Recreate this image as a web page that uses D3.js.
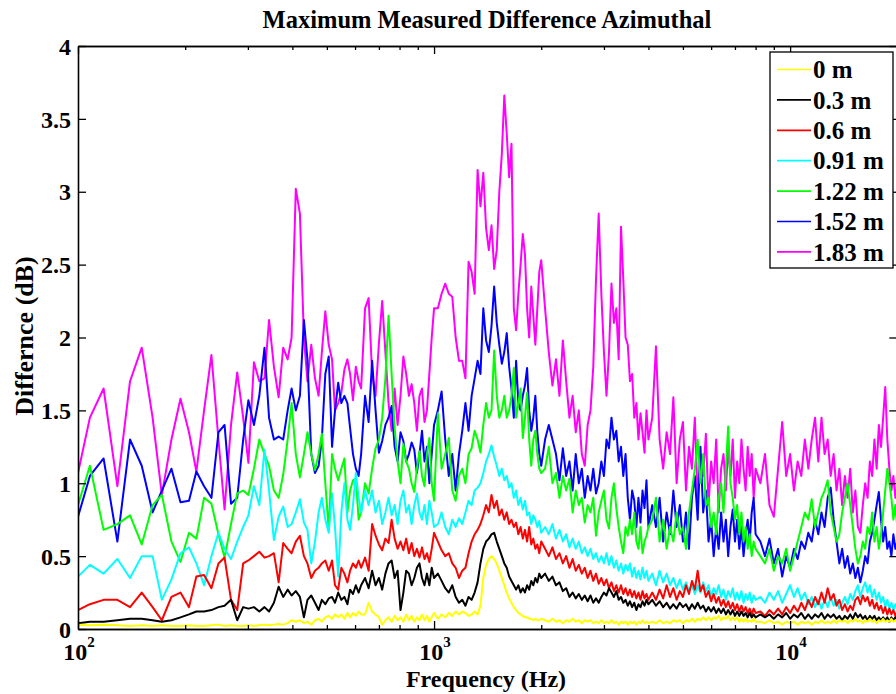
<!DOCTYPE html>
<html><head><meta charset="utf-8">
<script src="https://cdn.jsdelivr.net/npm/d3@7"></script>
<style>
body{margin:0;background:#fff}
svg text{font-family:"Liberation Serif","Times New Roman",serif;font-weight:bold;fill:#000}
</style>
</head><body>
<svg id="chart" width="896" height="694"></svg>
<script>
// ---------------- DATA ----------------
const title = "Maximum Measured Difference Azimuthal";
const xTitle = "Frequency (Hz)";
const yTitle = "Differnce (dB)";
const seriesLabels = ["0 m","0.3 m","0.6 m","0.91 m","1.22 m","1.52 m","1.83 m"];
const yTicks = [0,0.5,1,1.5,2,2.5,3,3.5,4];
const xMajorTicks = [100,1000,10000];
const xMinorTicks = [200,300,400,500,600,700,800,900,2000,3000,4000,5000,6000,7000,8000,9000,20000];

const freq = [
100,108,118,129,140,151,162,172,183,194,205,215,226,237,248,258,269,280,291,301,312,323,334,344,355,366,377,388,398,409,420,431,441,452,463,474,484,495,506,517,527,538,549,560,571,581,592,603,614,624,
640,655,670,685,700,715,730,745,760,775,790,805,820,835,850,865,880,895,910,925,940,955,970,985,1000,
1025,1050,1075,1100,1125,1150,1175,1200,1225,1250,1275,1300,1325,1350,1375,1400,1425,1450,1475,1500,1525,1550,1575,1600,1625,1650,1675,1700,1725,1750,1775,1800,1825,1850,1875,1900,1925,1950,1975,2000,
2050,2100,2150,2200,2250,2300,2350,2400,2450,2500,2550,2600,2650,2700,2750,2800,2850,2900,2950,3000,3050,3100,3150,3200,3250,3300,3350,3400,3450,3500,3550,3600,3650,3700,3750,3800,3850,3900,3950,4000,
4100,4200,4300,4400,4500,4600,4700,4800,4900,5000,5100,5200,5300,5400,5500,5600,5700,5800,5900,6000,6100,6200,6300,6400,6500,6600,6700,6800,6900,7000,7100,7200,7300,7400,7500,7600,7700,7800,7900,8000,
8250,8500,8750,9000,9250,9500,9750,10000,10250,10500,10750,11000,11250,11500,11750,12000,12250,12500,12750,13000,13250,13500,13750,14000,14250,14500,14750,15000,15250,15500,15750,16000,16250,16500,16750,17000,17250,17500,17750,18000,18250,18500,18750,19000,19250,19500,19750,20000];

const diff0m = [
0.03,0.025,0.03,0.025,0.02,0.025,0.02,0.025,0.02,0.02,0.025,0.02,0.02,0.025,0.03,0.02,0.025,0.02,0.02,0.025,0.02,0.025,0.03,0.025,0.03,0.035,0.03,0.04,0.06,0.05,0.06,0.04,0.05,0.03,0.06,0.07,0.05,0.08,0.09,0.07,0.10,0.08,0.10,0.07,0.11,0.08,0.11,0.09,0.12,0.10,
0.10,0.18,0.12,0.10,0.08,0.03,0.06,0.08,0.05,0.09,0.06,0.08,0.05,0.10,0.06,0.09,0.05,0.08,0.06,0.10,0.06,0.09,0.05,0.08,0.11,
0.07,0.10,0.08,0.11,0.09,0.12,0.10,0.12,0.11,0.09,0.10,0.12,0.10,0.16,0.35,0.44,0.48,0.50,0.48,0.45,0.40,0.35,0.30,0.25,0.21,0.18,0.15,0.13,0.11,0.10,0.09,0.08,0.08,0.07,0.07,0.06,0.07,0.06,0.06,0.07,
0.06,0.05,0.07,0.05,0.06,0.04,0.06,0.05,0.07,0.05,0.06,0.04,0.06,0.05,0.06,0.04,0.05,0.04,0.06,0.04,0.05,0.04,0.06,0.04,0.05,0.03,0.05,0.04,0.05,0.03,0.05,0.04,0.05,0.03,0.05,0.04,0.06,0.04,0.05,0.04,
0.05,0.04,0.06,0.04,0.05,0.04,0.06,0.05,0.06,0.04,0.06,0.05,0.07,0.05,0.07,0.06,0.08,0.06,0.08,0.06,0.08,0.07,0.09,0.06,0.08,0.07,0.09,0.06,0.08,0.06,0.08,0.05,0.07,0.05,0.07,0.05,0.06,0.05,0.07,0.05,
0.05,0.04,0.06,0.04,0.05,0.03,0.05,0.04,0.05,0.03,0.05,0.04,0.05,0.03,0.05,0.04,0.06,0.04,0.05,0.04,0.06,0.04,0.06,0.05,0.06,0.04,0.06,0.05,0.07,0.05,0.06,0.04,0.06,0.05,0.07,0.05,0.06,0.04,0.06,0.05,0.07,0.05,0.06,0.05,0.07,0.05,0.06,0.05];

const diff030m = [
0.04,0.05,0.05,0.06,0.07,0.07,0.06,0.05,0.06,0.08,0.10,0.12,0.12,0.13,0.15,0.16,0.20,0.06,0.15,0.14,0.15,0.12,0.15,0.12,0.18,0.29,0.22,0.27,0.23,0.26,0.22,0.08,0.20,0.23,0.18,0.13,0.20,0.17,0.21,0.22,0.18,0.25,0.20,0.22,0.17,0.27,0.24,0.30,0.25,0.30,
0.35,0.28,0.40,0.30,0.35,0.27,0.38,0.45,0.47,0.35,0.40,0.13,0.25,0.40,0.38,0.30,0.35,0.42,0.45,0.35,0.30,0.38,0.30,0.42,0.35,
0.38,0.33,0.28,0.25,0.30,0.22,0.18,0.20,0.16,0.22,0.20,0.25,0.32,0.45,0.55,0.60,0.62,0.65,0.66,0.60,0.55,0.50,0.45,0.42,0.36,0.33,0.30,0.27,0.30,0.25,0.28,0.25,0.30,0.27,0.33,0.30,0.35,0.32,0.38,0.35,
0.38,0.33,0.36,0.30,0.32,0.26,0.28,0.22,0.25,0.21,0.24,0.20,0.23,0.19,0.23,0.18,0.21,0.18,0.22,0.25,0.23,0.28,0.25,0.22,0.26,0.20,0.22,0.18,0.20,0.16,0.19,0.15,0.18,0.13,0.17,0.15,0.19,0.16,0.20,0.17,
0.20,0.16,0.19,0.15,0.18,0.14,0.17,0.14,0.18,0.15,0.17,0.13,0.17,0.14,0.18,0.14,0.16,0.12,0.15,0.12,0.15,0.11,0.14,0.11,0.14,0.10,0.13,0.10,0.13,0.09,0.12,0.09,0.12,0.09,0.11,0.08,0.11,0.08,0.10,0.08,
0.10,0.08,0.10,0.07,0.10,0.08,0.11,0.07,0.10,0.08,0.11,0.07,0.10,0.07,0.10,0.08,0.11,0.07,0.10,0.08,0.10,0.07,0.09,0.06,0.09,0.07,0.10,0.07,0.11,0.08,0.10,0.07,0.09,0.06,0.09,0.07,0.09,0.06,0.08,0.06,0.08,0.06,0.08,0.05,0.08,0.06,0.08,0.06];

const diff060m = [
0.13,0.17,0.20,0.20,0.15,0.25,0.15,0.06,0.22,0.25,0.15,0.36,0.37,0.28,0.45,0.49,0.20,0.13,0.45,0.47,0.50,0.53,0.49,0.50,0.52,0.32,0.59,0.55,0.52,0.60,0.64,0.50,0.45,0.35,0.40,0.42,0.45,0.47,0.40,0.47,0.30,0.27,0.42,0.38,0.32,0.40,0.45,0.42,0.47,0.42,
0.49,0.40,0.72,0.64,0.58,0.54,0.62,0.59,0.75,0.62,0.55,0.60,0.54,0.62,0.52,0.59,0.50,0.55,0.49,0.56,0.48,0.52,0.46,0.55,0.66,
0.60,0.54,0.50,0.52,0.45,0.42,0.35,0.40,0.42,0.52,0.60,0.65,0.68,0.72,0.78,0.85,0.80,0.92,0.83,0.88,0.78,0.82,0.75,0.80,0.72,0.75,0.70,0.73,0.65,0.70,0.62,0.68,0.60,0.70,0.58,0.62,0.55,0.58,0.52,0.60,
0.55,0.50,0.56,0.48,0.52,0.45,0.50,0.42,0.48,0.40,0.44,0.38,0.42,0.35,0.40,0.33,0.38,0.31,0.35,0.30,0.34,0.28,0.32,0.26,0.30,0.25,0.30,0.24,0.28,0.23,0.27,0.22,0.26,0.21,0.25,0.20,0.26,0.21,0.24,0.20,
0.25,0.20,0.27,0.21,0.30,0.22,0.28,0.20,0.26,0.22,0.30,0.24,0.33,0.27,0.40,0.26,0.30,0.22,0.26,0.19,0.24,0.18,0.22,0.16,0.20,0.15,0.19,0.14,0.18,0.13,0.17,0.12,0.16,0.12,0.15,0.11,0.14,0.10,0.14,0.11,
0.12,0.09,0.13,0.10,0.14,0.10,0.15,0.11,0.16,0.12,0.18,0.13,0.20,0.15,0.22,0.17,0.25,0.18,0.28,0.20,0.24,0.16,0.20,0.13,0.17,0.12,0.16,0.13,0.20,0.22,0.17,0.23,0.19,0.22,0.16,0.20,0.14,0.18,0.13,0.16,0.11,0.15,0.10,0.14,0.10,0.13,0.09,0.12];

const diff091m = [
0.36,0.44,0.38,0.48,0.35,0.50,0.50,0.20,0.34,0.52,0.56,0.45,0.30,0.50,0.66,0.55,0.48,0.60,0.70,0.78,0.98,0.85,1.23,0.95,0.61,0.77,0.84,0.70,0.72,0.80,0.89,0.73,0.68,0.45,0.60,0.80,0.90,0.75,0.66,0.93,0.70,0.36,0.80,1.00,0.75,0.68,0.85,1.07,0.90,0.80,
0.95,0.85,0.95,0.80,0.88,0.72,0.80,0.90,0.78,0.85,0.72,0.88,0.95,0.80,0.85,0.72,0.85,0.93,0.80,0.75,0.85,0.72,0.88,0.80,0.70,
0.72,0.80,0.70,0.65,0.75,0.70,0.76,0.72,0.80,0.88,0.85,0.95,0.97,1.00,1.07,1.15,1.20,1.26,1.18,1.12,1.05,1.10,1.02,1.05,0.97,1.00,0.90,0.95,0.85,0.90,0.82,0.88,0.78,0.80,0.72,0.78,0.75,0.70,0.74,0.66,
0.70,0.65,0.72,0.62,0.68,0.60,0.65,0.56,0.62,0.55,0.60,0.52,0.56,0.50,0.55,0.48,0.52,0.46,0.50,0.45,0.52,0.44,0.50,0.42,0.47,0.40,0.45,0.38,0.44,0.40,0.45,0.36,0.42,0.35,0.40,0.34,0.42,0.35,0.40,0.33,
0.38,0.30,0.40,0.32,0.38,0.30,0.35,0.28,0.34,0.27,0.32,0.26,0.30,0.24,0.30,0.25,0.32,0.26,0.30,0.22,0.28,0.24,0.30,0.22,0.27,0.20,0.26,0.22,0.28,0.20,0.25,0.20,0.26,0.18,0.24,0.20,0.25,0.18,0.23,0.20,
0.22,0.18,0.25,0.20,0.26,0.18,0.24,0.30,0.22,0.28,0.20,0.25,0.17,0.22,0.15,0.20,0.14,0.20,0.15,0.22,0.16,0.20,0.14,0.18,0.22,0.17,0.24,0.20,0.26,0.30,0.22,0.28,0.32,0.25,0.30,0.22,0.27,0.20,0.25,0.18,0.22,0.15,0.20,0.14,0.18,0.13,0.17,0.15];

const diff122m = [
0.85,1.12,0.68,0.72,0.78,0.58,0.85,0.92,0.60,0.46,0.66,0.62,0.90,0.86,0.65,0.49,0.72,0.93,0.95,0.92,1.10,1.30,1.20,1.12,0.95,0.90,1.06,1.30,1.55,1.20,1.04,1.20,1.35,1.20,1.09,1.20,1.34,1.00,0.68,1.20,1.10,1.02,1.10,1.17,0.80,0.95,1.02,1.03,0.75,0.80,
1.00,0.93,1.10,1.24,1.30,1.45,1.72,2.15,1.75,1.38,1.15,1.00,1.27,1.15,1.10,1.00,0.94,1.10,1.22,1.05,0.98,1.20,1.31,1.00,0.88,
1.48,1.10,1.20,1.31,0.95,0.88,1.05,1.10,1.00,1.20,1.24,1.36,1.30,1.21,1.40,1.55,1.45,1.50,1.91,1.60,1.45,1.50,1.60,1.45,1.50,1.60,1.79,1.45,1.55,1.65,1.31,1.45,1.62,1.30,1.12,1.30,1.36,1.20,1.10,1.07,
1.10,1.25,1.00,1.07,0.90,1.05,0.95,1.03,0.80,0.95,0.85,0.90,0.73,0.85,0.80,0.90,0.64,0.80,0.88,0.95,0.75,0.69,0.90,1.00,0.83,0.70,0.60,0.52,0.70,0.64,0.75,0.65,0.80,0.60,0.55,0.70,0.52,0.60,0.64,0.70,
0.75,0.90,0.60,0.75,0.55,0.70,0.60,0.80,0.65,0.70,0.55,0.80,0.95,1.10,1.30,1.00,1.20,0.85,0.90,0.70,0.80,0.65,0.90,1.00,0.80,1.10,1.39,1.00,0.90,0.75,0.85,0.65,0.80,0.60,0.70,0.55,0.65,0.50,0.60,0.55,
0.50,0.45,0.55,0.40,0.50,0.45,0.55,0.40,0.50,0.60,0.70,0.80,0.75,0.89,0.70,0.80,0.90,0.95,1.02,0.80,0.70,0.60,0.65,0.80,0.90,1.00,0.85,0.70,0.55,0.45,0.50,0.60,0.55,0.70,0.65,0.80,0.60,0.70,0.55,0.65,0.80,0.95,1.10,1.00,0.90,0.75,0.85,0.70];

const diff152m = [
0.77,1.05,1.17,0.60,1.30,1.12,0.80,0.95,1.10,0.87,0.88,1.08,0.98,0.90,1.35,1.40,0.86,0.90,1.30,1.57,1.40,1.60,1.93,1.45,1.30,1.32,1.30,1.50,1.65,1.50,1.60,2.12,1.85,1.20,1.07,1.12,1.30,1.75,1.87,1.25,1.50,1.69,1.55,1.60,1.55,1.38,1.20,1.10,1.05,1.20,
1.60,1.42,1.84,1.50,1.21,1.29,1.40,1.45,1.53,1.25,1.15,1.35,1.29,1.15,1.20,1.28,1.23,1.07,1.20,1.36,1.15,1.25,1.00,1.20,1.40,
1.50,1.63,1.30,1.05,1.20,0.95,1.20,1.36,1.55,1.36,1.60,1.72,1.84,1.75,2.20,1.98,1.90,2.08,2.35,2.10,1.95,1.82,1.90,2.03,1.80,1.65,1.45,1.84,1.55,1.50,1.60,1.67,1.79,1.50,1.36,1.45,1.60,1.35,1.20,1.12,
1.30,1.40,1.30,1.20,1.02,1.24,1.05,1.15,0.95,1.20,1.00,1.10,0.90,1.05,0.95,1.10,0.93,1.00,1.15,1.05,1.30,1.24,1.45,1.30,1.36,1.15,1.25,1.05,1.20,0.90,0.75,0.95,0.88,0.70,0.90,0.73,0.95,0.83,1.02,0.70,
0.85,0.70,0.90,0.60,0.80,0.65,0.95,0.70,0.85,0.60,0.80,0.55,0.90,1.05,0.75,1.25,0.80,0.95,0.60,0.75,0.50,0.70,0.55,0.80,0.60,0.75,0.50,0.70,0.82,0.60,0.75,0.55,0.70,0.50,0.65,0.75,0.60,0.80,0.90,0.65,
0.60,0.50,0.62,0.45,0.55,0.36,0.50,0.42,0.55,0.48,0.60,0.55,0.66,0.60,0.75,0.65,0.80,0.70,0.90,0.97,0.75,0.60,0.45,0.55,0.42,0.50,0.38,0.45,0.35,0.42,0.32,0.40,0.50,0.45,0.60,0.66,0.75,0.85,0.94,0.75,0.60,0.70,0.55,0.60,0.50,0.65,0.55,0.60];

const diff183m = [
1.07,1.45,1.65,0.98,1.70,1.93,1.45,0.92,1.30,1.58,1.35,1.08,1.50,1.88,1.30,0.82,1.40,1.76,1.45,1.14,1.83,1.70,1.72,2.12,1.80,1.59,1.93,1.85,2.00,3.02,2.85,2.00,1.70,1.95,1.72,1.60,1.90,2.18,1.95,1.85,1.50,1.55,1.62,1.78,1.85,1.75,1.57,1.80,1.70,1.65,
2.20,2.27,1.75,1.60,1.96,2.25,1.90,1.55,1.36,1.65,1.40,1.60,1.87,1.75,1.60,1.68,1.55,1.36,1.60,1.65,1.42,1.50,1.75,2.00,2.20,
2.20,2.30,2.37,2.30,2.28,2.00,1.84,1.84,1.72,2.52,2.45,2.30,3.15,2.90,3.13,2.75,2.60,2.77,2.47,2.60,3.00,3.26,3.66,3.40,3.10,3.33,2.20,2.05,2.30,2.50,2.71,2.57,2.20,2.00,2.35,2.15,1.95,2.20,2.45,2.53,
2.20,1.90,1.67,1.85,1.60,1.98,1.70,1.45,1.60,1.35,1.50,1.20,1.12,1.40,1.50,1.80,2.40,2.85,2.30,1.90,1.60,1.90,2.37,2.10,2.20,1.85,2.76,2.40,2.00,1.95,1.70,1.75,1.45,1.55,1.30,1.48,1.35,1.21,1.50,1.30,
1.45,1.94,1.30,1.10,1.35,1.20,1.59,1.00,1.30,1.42,0.95,1.25,1.10,1.45,0.90,1.20,1.05,1.34,0.85,1.15,1.00,1.30,0.80,1.10,1.20,0.95,1.25,1.05,1.30,0.90,1.15,1.00,1.30,1.10,0.95,1.25,1.05,1.20,0.90,1.10,
1.00,1.20,0.85,0.77,1.10,1.42,1.05,1.20,0.95,1.15,1.05,1.30,1.10,1.30,1.45,1.15,1.45,1.20,1.30,1.05,1.20,0.95,1.10,0.85,1.05,0.90,1.10,0.80,0.95,0.70,0.66,0.85,1.00,0.90,1.15,1.05,1.30,1.10,1.40,1.25,1.45,1.66,1.30,1.10,0.95,1.05,0.90,1.00];

const seriesValues = [diff0m, diff030m, diff060m, diff091m, diff122m, diff152m, diff183m];

// ---------------- STYLE ----------------
const colors = ["#ffff00","#000000","#ff0000","#00ffff","#00ff00","#0000ff","#ff00ff"];
const M = {left:78, top:46, right:897.3, bottom:629};

const svg = d3.select("#chart");
const x = d3.scaleLog().domain([100,20000]).range([M.left, M.right]);
const y = d3.scaleLinear().domain([0,4]).range([M.bottom, M.top]);

svg.append("defs").append("clipPath").attr("id","clip")
  .append("rect").attr("x",M.left).attr("y",M.top)
  .attr("width",M.right-M.left).attr("height",M.bottom-M.top);

// lines (farthest distance first, nearest on top)
const line = d3.line().x((d,i)=>x(freq[i])).y(d=>y(d));
const gLines = svg.append("g").attr("clip-path","url(#clip)");
for (let s = seriesValues.length-1; s >= 0; s--) {
  if (seriesValues[s].length !== freq.length) console.warn("len mismatch", s, seriesValues[s].length);
  gLines.append("path").datum(seriesValues[s])
    .attr("d", line).attr("fill","none")
    .attr("stroke", colors[s]).attr("stroke-width",2)
    .attr("stroke-linejoin","round");
}

// axes
function styleAxis(g){
  g.selectAll("path.domain").attr("stroke","#000").attr("stroke-width",1.6);
  g.selectAll(".tick line").attr("stroke","#000").attr("stroke-width",1.3);
}
const fmt = d3.format("");
svg.append("g").attr("transform",`translate(${M.left},0)`)
  .call(d3.axisLeft(y).tickValues(yTicks).tickSize(-8).tickSizeOuter(0).tickPadding(7).tickFormat(fmt))
  .call(styleAxis)
  .call(g=>g.selectAll("text").style("font-size","24px").attr("dy","0.34em"));
svg.append("g").attr("transform",`translate(${M.right},0)`)
  .call(d3.axisRight(y).tickValues(yTicks).tickSize(-8).tickSizeOuter(0).tickFormat(""))
  .call(styleAxis);
svg.append("g").attr("transform",`translate(0,${M.bottom})`)
  .call(d3.axisBottom(x).tickValues(xMajorTicks).tickSize(-8).tickSizeOuter(0).tickFormat(""))
  .call(styleAxis);
svg.append("g").attr("transform",`translate(0,${M.bottom})`)
  .call(d3.axisBottom(x).tickValues(xMinorTicks).tickSize(-4).tickSizeOuter(0).tickFormat(""))
  .call(styleAxis);
svg.append("g").attr("transform",`translate(0,${M.top})`)
  .call(d3.axisTop(x).tickValues(xMajorTicks).tickSize(-8).tickSizeOuter(0).tickFormat(""))
  .call(styleAxis);
svg.append("g").attr("transform",`translate(0,${M.top})`)
  .call(d3.axisTop(x).tickValues(xMinorTicks).tickSize(-4).tickSizeOuter(0).tickFormat(""))
  .call(styleAxis);

// x tick labels 10^n
xMajorTicks.forEach(v=>{
  const t = svg.append("text").attr("x", x(v)+1).attr("y", 660)
    .attr("text-anchor","middle").style("font-size","24px");
  t.append("tspan").text("10");
  t.append("tspan").attr("dy",-13).style("font-size","15px").text(String(Math.round(Math.log10(v))));
});

// titles
svg.append("text").attr("x",487).attr("y",28).attr("text-anchor","middle")
  .style("font-size","24.5px").text(title);
svg.append("text").attr("x",486).attr("y",687).attr("text-anchor","middle")
  .style("font-size","24px").text(xTitle);
svg.append("text").attr("transform","translate(33,336) rotate(-90)")
  .attr("text-anchor","middle").style("font-size","26px").text(yTitle);

// legend
const lg = svg.append("g");
lg.append("rect").attr("x",770).attr("y",52).attr("width",123).attr("height",216)
  .attr("fill","#fff").attr("stroke","#000").attr("stroke-width",1.3);
seriesLabels.forEach((lab,i)=>{
  const yy = 69.5 + i*30.4;
  lg.append("line").attr("x1",777).attr("x2",811).attr("y1",yy).attr("y2",yy)
    .attr("stroke",colors[i]).attr("stroke-width",1.7);
  lg.append("text").attr("x",813).attr("y",yy).attr("dy","0.35em")
    .style("font-size","25px").text(lab);
});
</script>
</body></html>
